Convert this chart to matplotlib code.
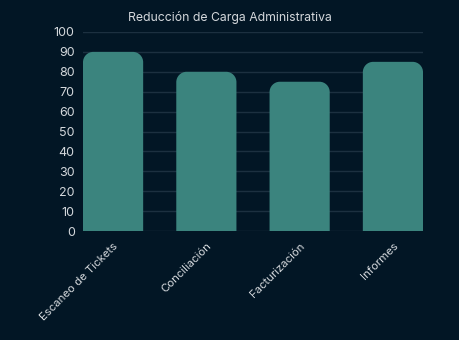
import matplotlib.pyplot as plt
from matplotlib.path import Path
from matplotlib.patches import PathPatch
import numpy as np

plt.rcParams['font.family'] = ['Inter', 'DejaVu Sans']

categorias = ["Escaneo de Tickets", "Conciliación", "Facturización", "Informes"]
valores = [90, 80, 75, 85]

bg = "#021625"
bar_color = "#3b847e"
txt = "#d4d8dc"

fig = plt.figure(figsize=(4.6, 3.4), dpi=100, facecolor=bg)
ax = fig.add_axes([83/460, 1-231/340, 340/460, 199/340], facecolor=bg)

x = np.arange(len(categorias))
bars = ax.bar(x, valores, width=0.645, color=bar_color, zorder=2)
ax.set_xlim(-0.3225, 3.3225)
ax.set_ylim(0, 100)

# rounded top corners
rx, ry = 0.11, 5.2
k = 0.5523
for b in bars:
    x0, y0 = b.get_x(), b.get_y()
    w, h = b.get_width(), b.get_height()
    x1, y1 = x0 + w, y0 + h
    verts = [(x0, y0), (x0, y1 - ry),
             (x0, y1 - ry + k*ry), (x0 + rx - k*rx, y1), (x0 + rx, y1),
             (x1 - rx, y1),
             (x1 - rx + k*rx, y1), (x1, y1 - ry + k*ry), (x1, y1 - ry),
             (x1, y0), (x0, y0)]
    codes = [Path.MOVETO, Path.LINETO,
             Path.CURVE4, Path.CURVE4, Path.CURVE4,
             Path.LINETO,
             Path.CURVE4, Path.CURVE4, Path.CURVE4,
             Path.LINETO, Path.CLOSEPOLY]
    ax.add_patch(PathPatch(Path(verts, codes), facecolor=bar_color,
                           edgecolor="none", zorder=2))
    b.set_visible(False)

ax.set_yticks(np.arange(0, 101, 10))
ax.grid(axis="y", color="#1c3040", linewidth=1, zorder=0)
ax.set_xticks(x)
ax.set_xticklabels(categorias, rotation=45, ha="right", rotation_mode="anchor")
ax.tick_params(colors=txt, length=0)
ax.tick_params(axis="y", labelsize=9, pad=6)
ax.tick_params(axis="x", labelsize=8.2, pad=7)
for s in ax.spines.values():
    s.set_visible(False)

fig.text(230/460, 1-18/340, "Reducción de Carga Administrativa", color=txt,
         fontsize=8.8, ha="center", va="center")

fig.savefig("out.png", facecolor=bg)
